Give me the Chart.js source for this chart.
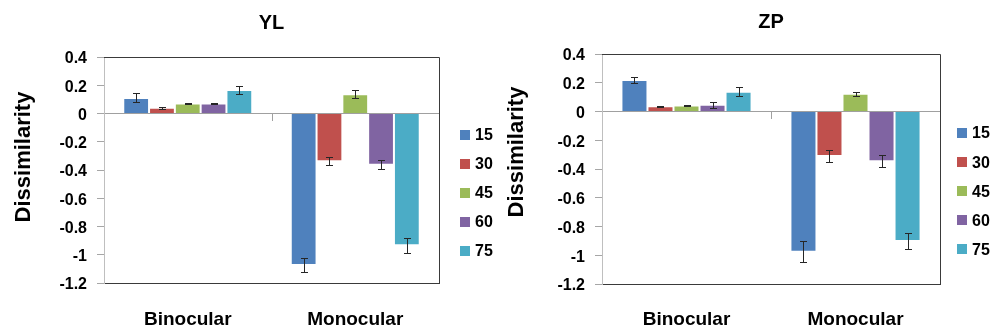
<!DOCTYPE html>
<html><head><meta charset="utf-8">
<script src="https://cdn.jsdelivr.net/npm/chart.js@4.4.1/dist/chart.umd.min.js"></script>
<style>
html,body{margin:0;padding:0;background:#fff;width:993px;height:333px;overflow:hidden;}
.wrap{position:absolute;top:0;height:333px;}
#w1{left:0;width:496px;}
#w2{left:498px;width:495px;}
canvas{display:block;}
</style></head><body>
<div class="wrap" id="w1"><canvas id="c1" width="496" height="333"></canvas></div>
<div class="wrap" id="w2"><canvas id="c2" width="495" height="333"></canvas></div>
<script>
// ---- data ----
const categories = ['Binocular', 'Monocular'];
const seriesNames = ['15', '30', '45', '60', '75'];
const seriesColors = ['#4F81BD', '#C0504D', '#9BBB59', '#8064A2', '#4BACC6'];
const yTickValues = [0.4, 0.2, 0, -0.2, -0.4, -0.6, -0.8, -1, -1.2];
const yTickLabels = ['0.4', '0.2', '0', '-0.2', '-0.4', '-0.6', '-0.8', '-1', '-1.2'];
const yAxisTitle = 'Dissimilarity';

// YL: [Binocular, Monocular]
const yl15 = [0.11, -1.073];
const yl30 = [0.04, -0.338];
const yl45 = [0.07, 0.136];
const yl60 = [0.07, -0.362];
const yl75 = [0.166, -0.933];
const yl15Err = [0.032, 0.05];
const yl30Err = [0.009, 0.03];
const yl45Err = [0.005, 0.028];
const yl60Err = [0.005, 0.034];
const yl75Err = [0.028, 0.054];

// ZP: [Binocular, Monocular]
const zp15 = [0.22, -0.976];
const zp30 = [0.036, -0.309];
const zp45 = [0.041, 0.123];
const zp60 = [0.047, -0.346];
const zp75 = [0.138, -0.9];
const zp15Err = [0.022, 0.073];
const zp30Err = [0.005, 0.044];
const zp45Err = [0.005, 0.015];
const zp60Err = [0.022, 0.04];
const zp75Err = [0.033, 0.058];

// ---- rendering ----
Chart.defaults.font.family = "'Liberation Sans', Arial, sans-serif";
Chart.defaults.font.weight = 'bold';
Chart.defaults.color = '#000';

const framePlugin = {
  id: 'frame',
  afterDraw(chart) {
    const {ctx, chartArea: a, scales: {x, y}} = chart;
    ctx.save();
    ctx.lineWidth = 1;
    ctx.strokeStyle = '#3a3a3a';
    ctx.beginPath();
    ctx.moveTo(Math.round(a.left), Math.round(a.top) + 0.5);
    ctx.lineTo(Math.round(a.right) + 0.5, Math.round(a.top) + 0.5);
    ctx.lineTo(Math.round(a.right) + 0.5, Math.round(a.bottom) + 0.5);
    ctx.stroke();
    // category boundary tick on the zero line
    const mx = Math.round((x.getPixelForValue(0) + x.getPixelForValue(1)) / 2) + 0.5;
    const y0 = Math.round(y.getPixelForValue(0));
    ctx.strokeStyle = '#a0a0a0';
    ctx.beginPath();
    ctx.moveTo(mx, y0);
    ctx.lineTo(mx, y0 + 7);
    ctx.stroke();
    ctx.restore();
  }
};

const errorPlugin = {
  id: 'errbars',
  afterDatasetsDraw(chart) {
    const {ctx, scales: {y}} = chart;
    ctx.save();
    ctx.lineWidth = 1;
    ctx.strokeStyle = '#262626';
    chart.data.datasets.forEach((ds, di) => {
      const meta = chart.getDatasetMeta(di);
      meta.data.forEach((bar, j) => {
        const v = ds.data[j], e = ds.errors[j];
        const yt = Math.round(y.getPixelForValue(v + e)) + 0.5;
        const yb = Math.round(y.getPixelForValue(v - e)) + 0.5;
        const cx = Math.round(bar.x) + 0.5;
        ctx.beginPath();
        ctx.moveTo(cx, yt); ctx.lineTo(cx, yb);
        ctx.moveTo(cx - 3.5, yt); ctx.lineTo(cx + 3.5, yt);
        ctx.moveTo(cx - 3.5, yb); ctx.lineTo(cx + 3.5, yb);
        ctx.stroke();
      });
    });
    ctx.restore();
  }
};

const legendPlugin = {
  id: 'sideLegend',
  afterDraw(chart, args, opts) {
    const {ctx, chartArea: a} = chart;
    ctx.save();
    ctx.font = 'bold 16px ' + Chart.defaults.font.family;
    ctx.textBaseline = 'middle';
    ctx.textAlign = 'left';
    chart.data.datasets.forEach((ds, i) => {
      const cy = opts.y0 + i * opts.dy;
      const bx = Math.round(a.right + opts.dx);
      ctx.fillStyle = ds.backgroundColor;
      ctx.fillRect(bx, Math.round(cy - 5), 10, 10);
      ctx.fillStyle = '#000';
      ctx.fillText(ds.label, bx + 15, cy + 1);
    });
    ctx.restore();
  }
};

const yTitlePlugin = {
  id: 'yTitle',
  afterDraw(chart, args, opts) {
    const {ctx} = chart;
    ctx.save();
    ctx.font = 'bold 22px ' + Chart.defaults.font.family;
    ctx.fillStyle = '#000';
    ctx.textAlign = 'center';
    ctx.textBaseline = 'middle';
    ctx.translate(opts.x, opts.y);
    ctx.rotate(-Math.PI / 2);
    ctx.fillText(opts.text, 0, 0);
    ctx.restore();
  }
};

function makeChart(id, title, series, errors, L) {
  return new Chart(document.getElementById(id), {
    type: 'bar',
    data: {
      labels: categories,
      datasets: seriesNames.map((n, i) => ({
        label: n,
        data: series[i],
        errors: errors[i],
        backgroundColor: seriesColors[i],
        borderColor: 'rgba(255,255,255,0.25)',
        borderWidth: 1,
        borderSkipped: 'start',
        categoryPercentage: 0.77,
        barPercentage: 1.0
      }))
    },
    options: {
      responsive: false,
      animation: false,
      layout: {padding: {left: 0, right: L.padR, top: 0, bottom: 0}},
      plugins: {
        legend: {display: false},
        tooltip: {enabled: false},
        title: {
          display: true, text: title, fullSize: false,
          font: {size: 20, weight: 'bold'}, color: '#000',
          padding: {top: L.tPadT, bottom: L.tPadB}
        },
        sideLegend: {dx: L.legDx, y0: L.legY0, dy: L.legDy},
        yTitle: {x: L.yTitleX, y: L.yTitleY, text: yAxisTitle}
      },
      scales: {
        x: {
          grid: {display: false, drawTicks: false},
          border: {display: true, color: '#3a3a3a', width: 1},
          ticks: {padding: L.xPad, font: {size: 19, weight: 'bold'}, color: '#000'},
          afterFit(s) { s.height = L.xH; }
        },
        y: {
          min: -1.2, max: 0.4,
          afterBuildTicks(s) { s.ticks = yTickValues.map(v => ({value: v})); },
          ticks: {
            callback: (v, i) => yTickLabels[i],
            padding: 10, labelOffset: 2,
            font: {size: 16, weight: 'bold'}, color: '#000'
          },
          grid: {
            color: c => (c.tick && c.tick.value === 0) ? '#a0a0a0' : 'rgba(0,0,0,0)',
            tickColor: '#a6a6a6', tickLength: 7, drawTicks: true, lineWidth: 1
          },
          border: {display: true, color: '#bfbfbf', width: 1},
          afterFit(s) { s.width = 104; }
        }
      }
    },
    plugins: [framePlugin, errorPlugin, legendPlugin, yTitlePlugin]
  });
}

makeChart('c1', 'YL',
  [yl15, yl30, yl45, yl60, yl75],
  [yl15Err, yl30Err, yl45Err, yl60Err, yl75Err],
  {padR: 57, tPadT: 11, tPadB: 22, xH: 50, xPad: 25, yTitleX: 24, yTitleY: 157, legDx: 21, legY0: 135, legDy: 29});

makeChart('c2', 'ZP',
  [zp15, zp30, zp45, zp60, zp75],
  [zp15Err, zp30Err, zp45Err, zp60Err, zp75Err],
  {padR: 53, tPadT: 10, tPadB: 20, xH: 49, xPad: 24, yTitleX: 19, yTitleY: 152, legDx: 17, legY0: 133, legDy: 29.1});
</script>
</body></html>
